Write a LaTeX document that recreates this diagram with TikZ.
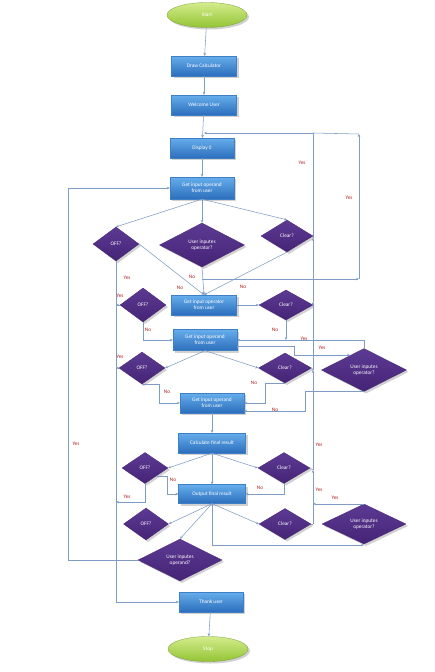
\documentclass[tikz,border=0pt]{standalone}
\usepackage{fontspec}
\setmainfont{Carlito}
\usetikzlibrary{shapes.geometric,shadows,arrows.meta,calc}
\definecolor{lnc}{HTML}{7F9DC4}
\definecolor{boxt}{HTML}{66AEEC}
\definecolor{boxd}{HTML}{2C6EBC}
\definecolor{boxb}{HTML}{3F7FC6}
\definecolor{purpt}{HTML}{5C3A93}
\definecolor{purpd}{HTML}{452476}
\definecolor{grnt}{HTML}{D3EC8C}
\definecolor{grnd}{HTML}{93C434}
\definecolor{labc}{HTML}{B02020}
\tikzset{
  conn/.style={draw=lnc, line width=0.55pt, -{Stealth[length=3pt,width=2.6pt]}},
  plain/.style={draw=lnc, line width=0.55pt},
  shad/.style={drop shadow={shadow xshift=2pt,shadow yshift=-2pt,opacity=0.3,fill=black!60}},
  proc/.style={rectangle, draw=boxb, line width=0.3pt, top color=boxt, bottom color=boxd,
    text=white, font=\fontsize{5.3}{6.2}\selectfont, align=center, inner sep=1pt, shad},
  dec/.style={diamond, aspect=2, inner sep=0pt, top color=purpt, bottom color=purpd,
    draw=purpd, line width=0.3pt, text=white, align=center,
    font=\fontsize{5.3}{6.2}\selectfont, shad},
  term/.style={ellipse, inner sep=0pt, top color=grnt, bottom color=grnd, draw=grnd!80!black,
    line width=0.3pt, text=white, font=\fontsize{5.3}{6.2}\selectfont, shad},
  lab/.style={inner sep=0pt, text=labc, font=\fontsize{5.3}{6.2}\selectfont}
}
\begin{document}
\begin{tikzpicture}[x=1pt,y=-1pt]
\useasboundingbox (0,0) rectangle (434,672);
% nodes
\node[term, minimum width=80pt, minimum height=25pt] (start) at (207,15) {Start};
\node[proc, minimum width=65pt, minimum height=20pt] (draw) at (204,66) {Draw Calculator};
\node[proc, minimum width=65pt, minimum height=20pt] (welcome) at (204,105) {Welcome User};
\node[proc, minimum width=64pt, minimum height=20pt] (disp) at (202,148) {Display 0};
\node[proc, minimum width=64pt, minimum height=22pt] (in1) at (202,188) {Get input operand\\from user};
\node[dec, minimum width=46pt, minimum height=34pt] (off1) at (116,244) {OFF?};
\node[dec, minimum width=85pt, minimum height=44pt] (uio1) at (202,245) {User inputes\\operator?};
\node[dec, minimum width=52pt, minimum height=32pt] (clr1) at (287,236) {Clear?};
\node[proc, minimum width=65pt, minimum height=20pt] (op) at (204,305) {Get input operator\\from user};
\node[dec, minimum width=46pt, minimum height=34pt] (off2) at (143,305) {OFF?};
\node[dec, minimum width=54pt, minimum height=30pt] (clr2) at (286,305) {Clear?};
\node[proc, minimum width=64pt, minimum height=21pt] (in2) at (205,340) {Get input operand\\from user};
\node[dec, minimum width=46pt, minimum height=32pt] (off3) at (142,368) {OFF?};
\node[dec, minimum width=53pt, minimum height=30pt] (clr3) at (285,368) {Clear?};
\node[dec, minimum width=85pt, minimum height=43pt] (uio2) at (364,370) {User inputes\\operator?};
\node[proc, minimum width=64pt, minimum height=20pt] (in3) at (212,403) {Get input operand\\from user};
\node[proc, minimum width=67pt, minimum height=20pt] (calc) at (212,443) {Calculate final result};
\node[dec, minimum width=46pt, minimum height=31pt] (off4) at (145,468) {OFF?};
\node[dec, minimum width=52pt, minimum height=31pt] (clr4) at (284,468) {Clear?};
\node[proc, minimum width=67pt, minimum height=19pt] (out) at (212,494) {Output final result};
\node[dec, minimum width=45pt, minimum height=32pt] (off5) at (146,524) {OFF?};
\node[dec, minimum width=52pt, minimum height=31pt] (clr5) at (285,524) {Clear?};
\node[dec, minimum width=84pt, minimum height=40pt] (uio3) at (364,524) {User inputes\\operator?};
\node[dec, minimum width=84pt, minimum height=42pt] (uod) at (180,560) {User inputes\\operand?};
\node[proc, minimum width=64pt, minimum height=20pt] (thank) at (211,602) {Thank user};
\node[term, minimum width=80pt, minimum height=25pt] (stop) at (208,649) {Stop};
% coordinates
\coordinate (j1) at (204,133);
\coordinate (ra) at (313,133);
\coordinate (rb) at (359,134);
\coordinate (v5) at (313,524);
\coordinate (v4) at (313,470);
\coordinate (v3) at (313,370);
\coordinate (v2) at (313,302);
\coordinate (v1) at (313,238);
\coordinate (h1) at (202,279);
\coordinate (h2) at (359,279);
\coordinate (ll1) at (68,560);
\coordinate (ll2) at (68,188);
\coordinate (p1) at (237,346);
\coordinate (p2) at (294,346);
\coordinate (p3) at (294,355);
\coordinate (p4) at (350,355);
\coordinate (q1) at (159,403);
\coordinate (q2) at (265,403);
\coordinate (q3) at (305,411);
\coordinate (q4) at (244,411);
\coordinate (o4a) at (145,502);
\coordinate (o4c) at (167,494);
\coordinate (s1) at (212,545);
% connectors
\draw[conn] (start) -- (draw);
\draw[conn] (draw) -- (welcome);
\draw[conn] (welcome) -- (disp);
\draw[conn] (disp) -- (in1);
\draw[plain] (clr5.east) -- (v5);
\draw[conn] (v5) -- (v4);
\draw[conn] (v4) -- (v3);
\draw[conn] (v3) -- (v2);
\draw[conn] (v2) -- (v1);
\draw[plain] (v1) -- (ra);
\draw[conn] (ra) -- (j1);
\draw[plain] (clr1.east) -- (v1);
\draw[plain] (clr2.east) -- (v2);
\draw[plain] (clr3.east) -- (v3);
\draw[plain] (clr4.east) -- (v4);
\draw[conn] (h1) -- (h2);
\draw[conn] (h2) -- (rb);
\draw[plain] (rb) -- (ra);
\draw[conn] (uod.west) -- (ll1) -- (ll2) -- (in1.west);
\draw[conn] (off1.south) |- (thank.west);
\draw[conn] (off2.west) -- (off2.west -| off1.south);
\draw[conn] (off3.west) -- (off3.west -| off1.south);
\draw[conn] (off4.south) -- (o4a) -- (o4a -| off1.south);
\draw[conn] (in1.south) -- (off1.north);
\draw[conn] (in1.south) -- (uio1.north);
\draw[conn] (in1.south) -- (clr1.north);
\draw[conn] (off1.east) -- (op.north);
\draw[conn] (uio1.south) -- (op.north);
\draw[conn] (clr1.south) -- (op.north);
\draw[conn] (op.east) -- (clr2.west);
\draw[conn] (clr2.south) -- (clr2.south |- in2.east);
\draw[conn] (uio2.north) |- (in2.east);
\draw[conn] (p1) -- (p2) -- (p3) -- (p4);
\draw[conn] (off2.south) |- (in2.west);
\draw[conn] (in2.south) -- (off3.east);
\draw[conn] (in2.south) -- (clr3.west);
\draw[conn] (off3.south) -| (q1) -- (in3.west);
\draw[conn] (clr3.south) -| (q2) -- (in3.east);
\draw[conn] (uio2.south) -| (q3) -- (q4);
\draw[conn] (in3) -- (calc);
\draw[conn] (calc.south) -- (off4.east);
\draw[conn] (calc.south) -- (out.north);
\draw[conn] (calc.south) -- (clr4.west);
\draw[conn] (off4.south east) -| (o4c) -- (out.west);
\draw[conn] (clr4.south) |- (out.east);
\draw[conn] (out.south) -- (off5.east);
\draw[conn] (out.south) -- (uod.north);
\draw[conn] (out.south) -- (s1) -- (s1 -| uio3.south);
\draw[conn] (out.south) -- (clr5.west);
\draw[conn] (uio3.north) -- (uio3.north -| v5);
\draw[conn] (thank) -- (stop);
% labels
\node[lab] (y1) at (302,163) {Yes};
\node[lab] (y2) at (349,198) {Yes};
\node[lab] (y3) at (127,278) {Yes};
\node[lab] (y4) at (120,296) {Yes};
\node[lab] (y5) at (120,357) {Yes};
\node[lab] (y6) at (304,339) {Yes};
\node[lab] (y7) at (322,348) {Yes};
\node[lab] (y8) at (76,444) {Yes};
\node[lab] (y9) at (319,445) {Yes};
\node[lab] (y10) at (319,490) {Yes};
\node[lab] (y11) at (127,497) {Yes};
\node[lab] (y12) at (335,498) {Yes};
\node[lab] (n1) at (192,277) {No};
\node[lab] (n2) at (180,288) {No};
\node[lab] (n3) at (243,287) {No};
\node[lab] (n4) at (148,330) {No};
\node[lab] (n5) at (275,330) {No};
\node[lab] (n6) at (254,383) {No};
\node[lab] (n7) at (167,392) {No};
\node[lab] (n8) at (275,410) {No};
\node[lab] (n9) at (173,480) {No};
\node[lab] (n10) at (260,488) {No};
\end{tikzpicture}
\end{document}
